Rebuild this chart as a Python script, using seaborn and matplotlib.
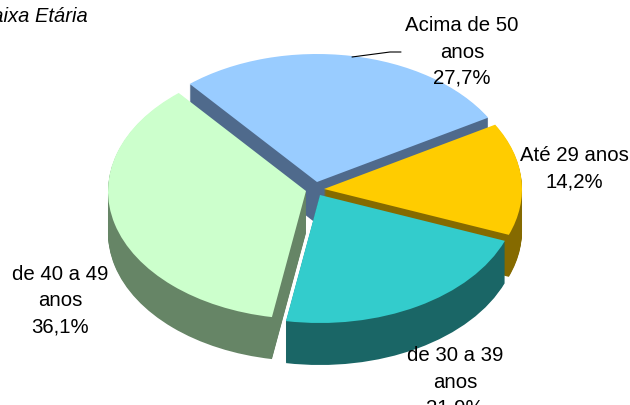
import matplotlib
matplotlib.use('Agg')
import matplotlib.pyplot as plt
import seaborn as sns

sns.set_theme(style='white')
plt.rcParams['font.family'] = ['Liberation Sans', 'DejaVu Sans']

labels = ['Acima de 50\nanos\n27,7%', 'Até 29 anos\n14,2%', 'de 30 a 39\nanos\n21,9%', 'de 40 a 49\nanos\n36,1%']
values = [27.7, 14.2, 21.9, 36.1]
top_colors = ['#99CCFF', '#FFCC00', '#33CCCC', '#CCFFCC']
side_colors = ['#4F6A8C', '#856A00', '#1A6666', '#668566']
draw_order = [0, 1, 3, 2]

# pie radius 1 is stretched to an ellipse of 198x128 px
rx, ry = 198, 128
cx, cy = 315, 187
depth = 42
# where each slice's tip ends up, in px
tips = [(317, 182), (324, 189), (320, 195), (306, 191)]

fig = plt.figure(figsize=(6.3, 4.05), dpi=100)
ax = fig.add_axes([0, 0, 1, 1])


def px(x, y):
    return (x - cx) / rx, (cy - y) / ry


for d in range(depth, -1, -1):
    colors = top_colors if d == 0 else side_colors
    wedges, _ = ax.pie(values, colors=colors, startangle=130, counterclock=False,
                       radius=1, wedgeprops={'linewidth': 0})
    for i, w in enumerate(wedges):
        w.set_center(px(tips[i][0], tips[i][1] + d))
        w.set_zorder(draw_order.index(i) * 100 + depth - d + 1)

ax.set_aspect('auto')
ax.set_xlim(-cx / rx, (630 - cx) / rx)
ax.set_ylim((cy - 405) / ry, cy / ry)
ax.axis('off')

line = [px(352, 57), px(390, 52), px(401, 52)]
ax.plot(*zip(*line), color='black', lw=0.8, zorder=1000)

positions = [(462, 52), (574, 169), (455, 382), (60, 301)]
for lab, pos in zip(labels, positions):
    ax.text(*px(*pos), lab, ha='center', va='center', fontsize=14.7,
            color='black', linespacing=1.47, zorder=1001, clip_on=False)

ax.text(*px(88, 16), 'Faixa Etária', ha='right', va='center', fontsize=14.5,
        style='italic', color='black', zorder=1001, clip_on=False)

fig.savefig('out.png', dpi=100)
